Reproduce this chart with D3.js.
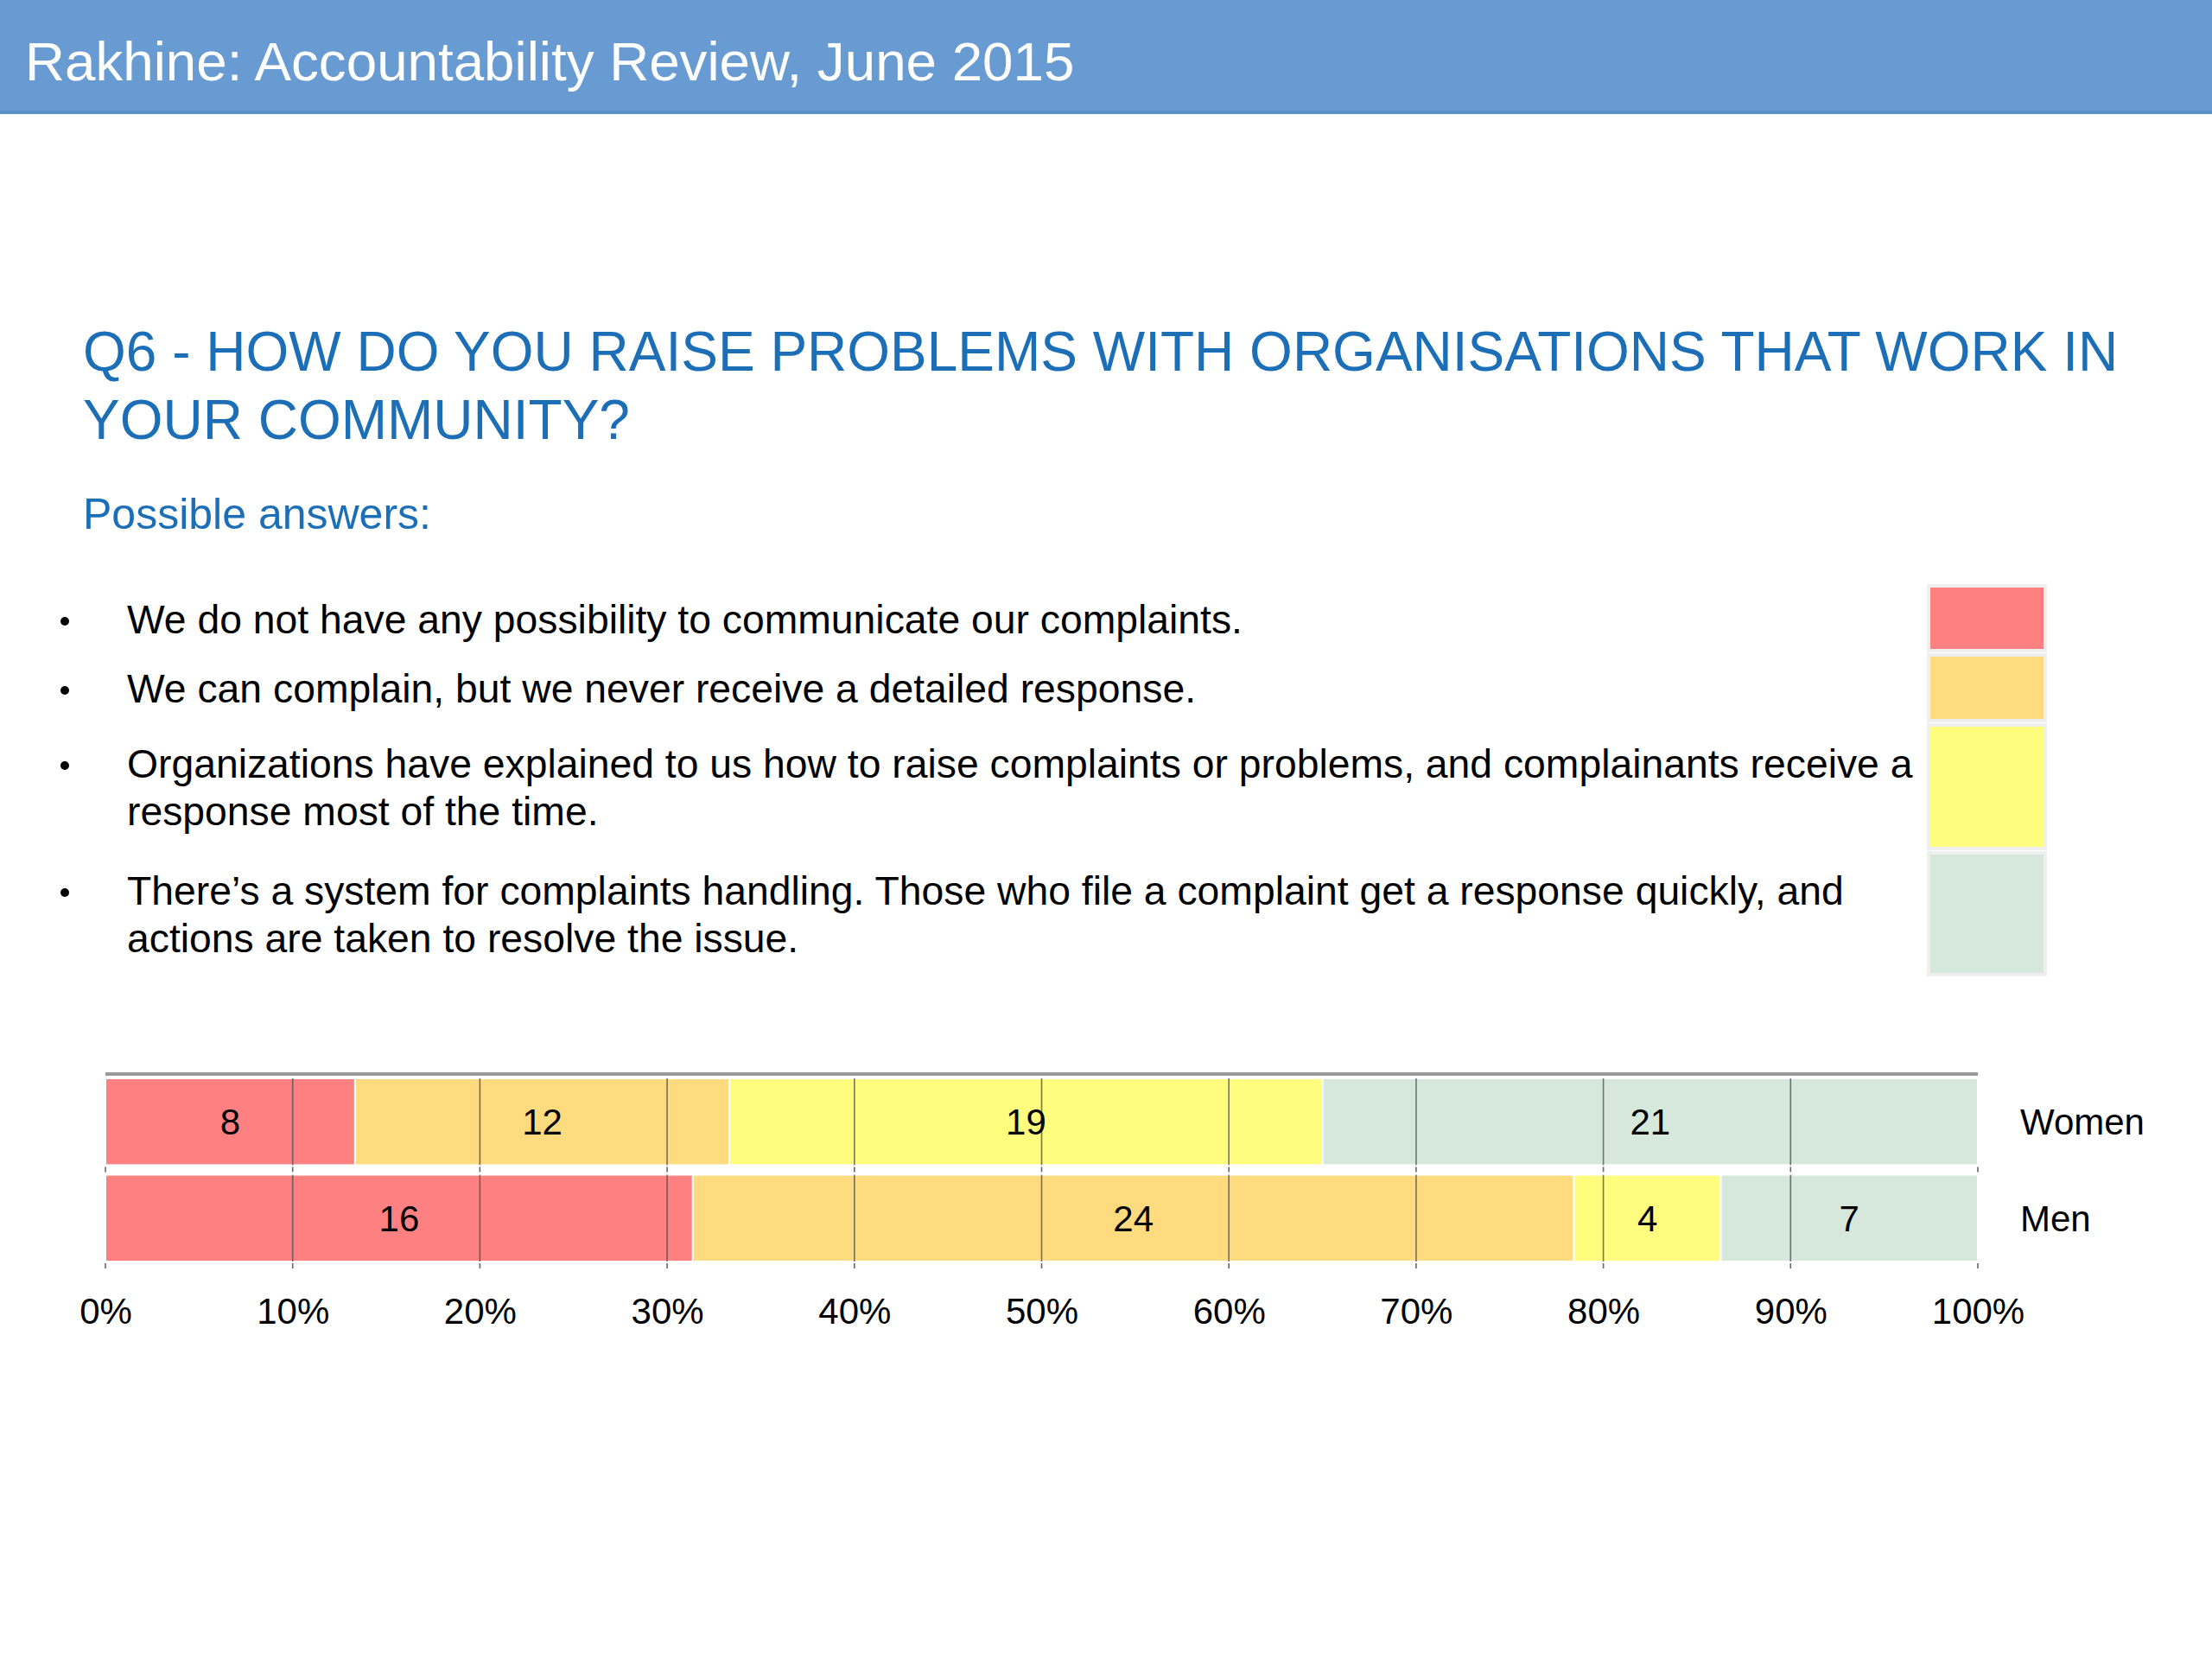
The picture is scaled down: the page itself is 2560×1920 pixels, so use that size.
<!DOCTYPE html>
<html>
<head>
<meta charset="utf-8">
<script src="https://cdn.jsdelivr.net/npm/d3@7/dist/d3.min.js"></script>
<style>
  html, body { margin: 0; padding: 0; background: #fff; }
  svg { display: block; font-family: "Liberation Sans", Arial, Helvetica, sans-serif; }
</style>
</head>
<body>
<svg id="chart" width="2560" height="1920"></svg>
<script>
// ---- data ----
const headerTitle = "Rakhine: Accountability Review, June 2015";
const questionLines = ["Q6 - HOW DO YOU RAISE PROBLEMS WITH ORGANISATIONS THAT WORK IN", "YOUR COMMUNITY?"];
const subTitle = "Possible answers:";
const answerKeys = ["none", "noResponse", "mostly", "system"];
const answerTexts = [
  ["We do not have any possibility to communicate our complaints."],
  ["We can complain, but we never receive a detailed response."],
  ["Organizations have explained to us how to raise complaints or problems, and complainants receive a", "response most of the time."],
  ["There\u2019s a system for complaints handling. Those who file a complaint get a response quickly, and", "actions are taken to resolve the issue."]
];
const answerColors = ["#FF8080", "#FFDB80", "#FFFC7E", "#D6E8DC"];
const categories = ["Women", "Men"];
const womenValues = [8, 12, 19, 21];
const menValues = [16, 24, 4, 7];
const tickValues = [0, 0.1, 0.2, 0.3, 0.4, 0.5, 0.6, 0.7, 0.8, 0.9, 1.0];
const tickLabels = ["0%", "10%", "20%", "30%", "40%", "50%", "60%", "70%", "80%", "90%", "100%"];

// ---- build table ----
const rows = categories.map((c, i) => {
  const vals = i === 0 ? womenValues : menValues;
  const r = { category: c };
  answerKeys.forEach((k, j) => r[k] = vals[j]);
  return r;
});

const svg = d3.select("#chart");
svg.append("rect").attr("width", 2560).attr("height", 1920).attr("fill", "#fff");

// ---- header band ----
svg.append("rect").attr("x", 0).attr("y", 0).attr("width", 2560).attr("height", 132).attr("fill", "#689BD2");
svg.append("rect").attr("x", 0).attr("y", 128).attr("width", 2560).attr("height", 4).attr("fill", "#5B8DC6");
svg.append("text").attr("x", 29).attr("y", 93).attr("fill", "#fff")
  .attr("font-size", 63.7).text(headerTitle);

// ---- question ----
svg.selectAll("text.q").data(questionLines).join("text").attr("class", "q")
  .attr("x", 96).attr("y", (d, i) => 429 + i * 79)
  .attr("fill", "#1C6FB6").attr("font-size", 64).text(d => d);

svg.append("text").attr("x", 96).attr("y", 612).attr("fill", "#1C6FB6")
  .attr("font-size", 50).text(subTitle);

// ---- bullets ----
const bulletY = [733, 813, 900, 1047];
const lineGap = 55;
const bg = svg.append("g");
answerTexts.forEach((lines, i) => {
  bg.append("circle").attr("cx", 75).attr("cy", bulletY[i] - 14).attr("r", 5).attr("fill", "#000");
  lines.forEach((t, j) => {
    bg.append("text").attr("x", 147).attr("y", bulletY[i] + j * lineGap)
      .attr("font-size", 46.3).attr("fill", "#000").text(t);
  });
});

// ---- legend swatches ----
const swatchY = [[678, 753], [758, 834], [839, 982], [987, 1128]];
svg.selectAll("rect.sw").data(answerColors).join("rect").attr("class", "sw")
  .attr("x", 2232).attr("width", 135)
  .attr("y", (d, i) => swatchY[i][0]).attr("height", (d, i) => swatchY[i][1] - swatchY[i][0])
  .attr("fill", d => d).attr("stroke", "#EFEFEF").attr("stroke-width", 4);

// ---- stacked bar chart ----
const x = d3.scaleLinear().domain([0, 1]).range([122, 2289]);
const y = d3.scaleBand().domain(categories).range([1248, 1460]).paddingInner(0.1);
const color = d3.scaleOrdinal().domain(answerKeys).range(answerColors);
const stack = d3.stack().keys(answerKeys).offset(d3.stackOffsetExpand);
const series = stack(rows);

// top gray line
svg.append("line").attr("x1", x(0)).attr("x2", x(1)).attr("y1", 1243).attr("y2", 1243)
  .attr("stroke", "#9A9A9A").attr("stroke-width", 4);

const gBars = svg.append("g");
series.forEach(s => {
  gBars.selectAll(null).data(s).join("rect")
    .attr("x", d => x(d[0])).attr("width", d => x(d[1]) - x(d[0]))
    .attr("y", d => y(d.data.category)).attr("height", y.bandwidth())
    .attr("fill", color(s.key)).attr("stroke", "#fff").attr("stroke-width", 2);
});

// gridlines over bars
const gGrid = svg.append("g");
categories.forEach(c => {
  gGrid.selectAll(null).data(tickValues.slice(1, -1)).join("line")
    .attr("x1", d => x(d)).attr("x2", d => x(d))
    .attr("y1", y(c)).attr("y2", y(c) + y.bandwidth())
    .attr("stroke", "#4a4a4a").attr("stroke-opacity", 0.75).attr("stroke-width", 1.6);
  gGrid.selectAll(null).data(tickValues).join("line")
    .attr("x1", d => x(d)).attr("x2", d => x(d))
    .attr("y1", y(c) + y.bandwidth() + 2).attr("y2", y(c) + y.bandwidth() + 8)
    .attr("stroke", "#666").attr("stroke-width", 1.6);
});

// value labels
const gLab = svg.append("g");
series.forEach(s => {
  gLab.selectAll(null).data(s).join("text")
    .attr("x", d => (x(d[0]) + x(d[1])) / 2)
    .attr("y", d => y(d.data.category) + y.bandwidth() / 2)
    .attr("dy", "0.36em").attr("text-anchor", "middle")
    .attr("font-size", 42).attr("fill", "#000")
    .text(d => d.data[s.key]);
});

// category labels
svg.selectAll("text.cat").data(categories).join("text").attr("class", "cat")
  .attr("x", 2338).attr("y", d => y(d) + y.bandwidth() / 2)
  .attr("dy", "0.36em").attr("font-size", 42).attr("fill", "#000").text(d => d);

// x axis
const axis = d3.axisBottom(x).tickValues(tickValues)
  .tickFormat((d, i) => tickLabels[i]).tickSize(0).tickPadding(42);
const gAxis = svg.append("g").attr("transform", `translate(0,${1460})`).call(axis);
gAxis.select(".domain").remove();
gAxis.selectAll("text").attr("font-size", 42).attr("fill", "#000")
  .attr("font-family", "'Liberation Sans', Arial, sans-serif");
</script>
</body>
</html>
